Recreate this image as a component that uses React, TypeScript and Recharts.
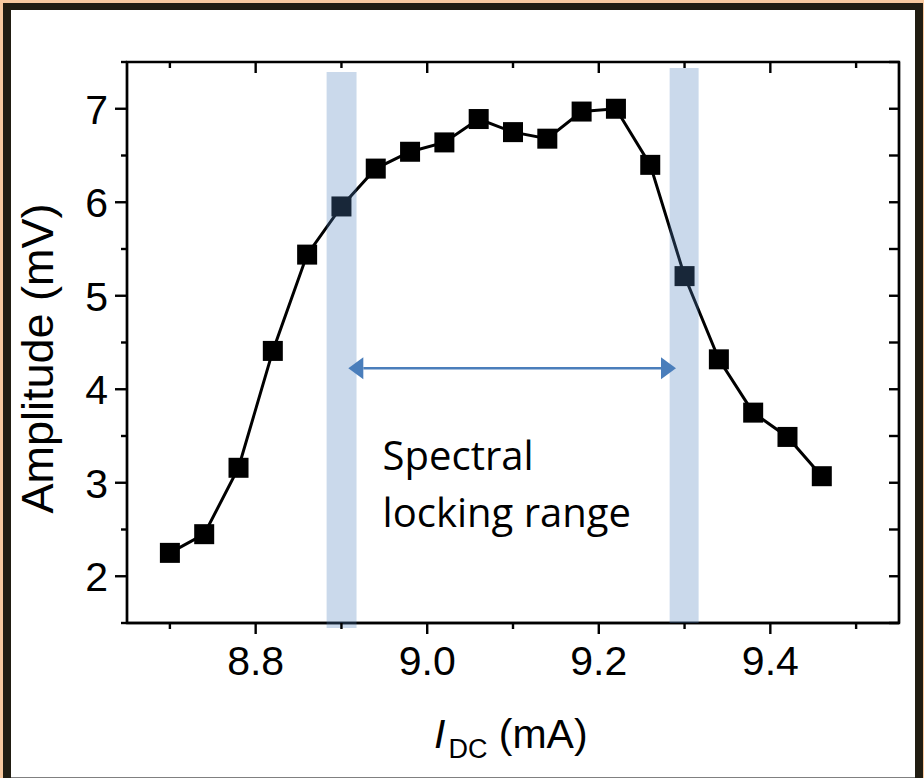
import { ComposedChart, Line, XAxis, YAxis, ReferenceArea, ReferenceLine, ReferenceDot } from 'recharts'

// drive current (mA) and measured amplitude (mV)
const currentMA = [8.7, 8.74, 8.78, 8.82, 8.86, 8.9, 8.94, 8.98, 9.02, 9.06, 9.1, 9.14, 9.18, 9.22, 9.26, 9.3, 9.34, 9.38, 9.42, 9.46]
const amplitudeMV = [2.25, 2.45, 3.16, 4.41, 5.44, 5.955, 6.36, 6.54, 6.64, 6.89, 6.75, 6.68, 6.97, 7.0, 6.4, 5.21, 4.32, 3.75, 3.49, 3.07]

const xDomain = [8.65, 9.55]
const yDomain = [1.5, 7.5]
const xTicks = [8.7, 8.8, 8.9, 9.0, 9.1, 9.2, 9.3, 9.4, 9.5]
const xMajor = [8.8, 9.0, 9.2, 9.4]
const yTicks = [1.5, 2, 2.5, 3, 3.5, 4, 4.5, 5, 5.5, 6, 6.5, 7, 7.5]
const yMajor = [2, 3, 4, 5, 6, 7]

// shaded edges of the locking range
const bandX1 = [8.8827, 9.2826]
const bandX2 = [8.9176, 9.3164]
const bandTop = [7.393, 7.436]
const bandBottom = [1.447, 1.5]

const arrowX = [8.908, 9.29]
const arrowY = 4.224
const noteX = 8.948
const noteY = 3.136
const noteLines = ['Spectral', 'locking range']

const data = currentMA.map((x, i) => ({ x, y: amplitudeMV[i] }))

const W = 924
const H = 778
const MARGIN = { top: 62, right: 25, bottom: 25, left: 0 }
const Y_AXIS_W = 127
const X_AXIS_H = 130
const PLOT_W = W - MARGIN.left - MARGIN.right - Y_AXIS_W
const PLOT_H = H - MARGIN.top - MARGIN.bottom - X_AXIS_H

const isMajor = (v: number, list: number[]) => list.some((m) => Math.abs(m - v) < 1e-6)

const ARIAL = 'Liberation Sans, Arial, sans-serif'
const AX = 2.4

// bottom ticks point out, the mirrored ones on the top edge point in
const BottomTick = (props: any) => {
  const { x, y, payload } = props
  const major = isMajor(payload.value, xMajor)
  const top = y - PLOT_H
  return (
    <g>
      <line x1={x} x2={x} y1={y} y2={y + (major ? 11 : 6)} stroke="#000" strokeWidth={AX} />
      <line x1={x} x2={x} y1={top} y2={top + (major ? 11 : 6)} stroke="#000" strokeWidth={AX} />
      {major && (
        <text x={x} y={y + 52} textAnchor="middle" fontSize={41} fontFamily={ARIAL} fill="#000">
          {payload.value.toFixed(1)}
        </text>
      )}
    </g>
  )
}

const LeftTick = (props: any) => {
  const { x, y, payload, index } = props
  const major = isMajor(payload.value, yMajor)
  const right = x + PLOT_W
  return (
    <g>
      <line x1={x} x2={x - (major ? 12 : 6)} y1={y} y2={y} stroke="#000" strokeWidth={AX} />
      <line x1={right} x2={right - 10} y1={y} y2={y} stroke="#000" strokeWidth={AX} />
      {/* right edge of the box, drawn once from the lowest tick */}
      {index === 0 && <line x1={right} x2={right} y1={y} y2={y - PLOT_H} stroke="#000" strokeWidth={AX} />}
      {major && (
        <text x={x - 19} y={y} dy="0.36em" textAnchor="end" fontSize={41} fontFamily={ARIAL} fill="#000">
          {payload.value}
        </text>
      )}
    </g>
  )
}

const XTitle = (props: any) => {
  const vb = props.viewBox
  return (
    <text x={vb.x + 307} y={vb.y + 125} fontSize={41} fontFamily={ARIAL} fill="#000">
      <tspan fontStyle="italic">I</tspan>
      <tspan fontSize={27} dy={10} dx={3}>DC</tspan>
      <tspan dy={-10}> (mA)</tspan>
    </text>
  )
}

const YTitle = (props: any) => {
  const vb = props.viewBox
  const cx = vb.x + 53
  const cy = vb.y + vb.height / 2 + 16
  return (
    <text x={cx} y={cy} transform={`rotate(-90 ${cx} ${cy})`} textAnchor="middle" fontSize={45} fontFamily={ARIAL} fill="#000">
      Amplitude (mV)
    </text>
  )
}

const Square = (props: any) => {
  const { cx, cy, index } = props
  return <rect key={`sq-${index}`} x={cx - 10} y={cy - 10} width={20} height={20} fill="#000" />
}

const DoubleArrow = (props: any) => {
  const { x1, y1, x2, y2 } = props
  const len = 15
  const half = 11
  const c = '#4a7ebb'
  return (
    <g>
      <line x1={x1 + len} y1={y1} x2={x2 - len} y2={y2} stroke={c} strokeWidth={2.5} />
      <polygon points={`${x1},${y1} ${x1 + len},${y1 - half} ${x1 + len},${y1 + half}`} fill={c} />
      <polygon points={`${x2},${y2} ${x2 - len},${y2 - half} ${x2 - len},${y2 + half}`} fill={c} />
    </g>
  )
}

const Note = (props: any) => {
  const { cx, cy } = props
  return (
    <text x={cx} y={cy} fontSize={40} fontFamily="Open Sans, sans-serif" fill="#000">
      {noteLines.map((t, i) => (
        <tspan key={t} x={cx} dy={i === 0 ? 0 : 57}>
          {t}
        </tspan>
      ))}
    </text>
  )
}

export default function App() {
  return (
    <div style={{ position: 'absolute', left: 0, top: 0, width: W, height: H, background: '#f8c99f' }}>
      <div style={{ position: 'absolute', left: 3, top: 3, width: 920, height: 775, background: '#211d12' }} />
      <div
        style={{
          position: 'absolute',
          left: 11,
          top: 10,
          width: 904,
          height: 767,
          background: '#fff',
          borderBottom: '1px solid #808080',
        }}
      />
      <div style={{ position: 'absolute', left: 0, top: 0 }}>
        <ComposedChart width={W} height={H} data={data} margin={MARGIN}>
          <XAxis
            xAxisId="bottom"
            dataKey="x"
            type="number"
            domain={xDomain}
            allowDataOverflow
            ticks={xTicks}
            interval={0}
            tickSize={0}
            tickMargin={0}
            tickLine={false}
            tick={<BottomTick />}
            axisLine={{ stroke: '#000', strokeWidth: AX }}
            height={X_AXIS_H}
            label={<XTitle />}
          />
          <YAxis
            yAxisId="left"
            type="number"
            domain={yDomain}
            allowDataOverflow
            ticks={yTicks}
            interval={0}
            tickSize={0}
            tickMargin={0}
            tickLine={false}
            tick={<LeftTick />}
            axisLine={{ stroke: '#000', strokeWidth: AX }}
            width={Y_AXIS_W}
            label={<YTitle />}
          />
          {/* closed box round the plot */}
          <ReferenceArea
            xAxisId="bottom"
            yAxisId="left"
            x1={xDomain[0]}
            x2={xDomain[1]}
            y1={yDomain[0]}
            y2={yDomain[1]}
            fill="none"
            stroke="#000"
            strokeWidth={AX}
            ifOverflow="visible"
          />
          <Line
            xAxisId="bottom"
            yAxisId="left"
            dataKey="y"
            type="linear"
            stroke="#000"
            strokeWidth={3}
            dot={Square}
            activeDot={false}
            isAnimationActive={false}
          />
          {bandX1.map((x1, i) => (
            <ReferenceArea
              key={`band-${i}`}
              xAxisId="bottom"
              yAxisId="left"
              x1={x1}
              x2={bandX2[i]}
              y1={bandBottom[i]}
              y2={bandTop[i]}
              ifOverflow="visible"
              fill="#4f81bd"
              fillOpacity={0.3}
              stroke="none"
              zIndex={1000}
            />
          ))}
          <ReferenceLine
            xAxisId="bottom"
            yAxisId="left"
            segment={[
              { x: arrowX[0], y: arrowY },
              { x: arrowX[1], y: arrowY },
            ]}
            shape={DoubleArrow}
            zIndex={1100}
          />
          <ReferenceDot xAxisId="bottom" yAxisId="left" x={noteX} y={noteY} shape={Note} zIndex={1100} />
        </ComposedChart>
      </div>
    </div>
  )
}
